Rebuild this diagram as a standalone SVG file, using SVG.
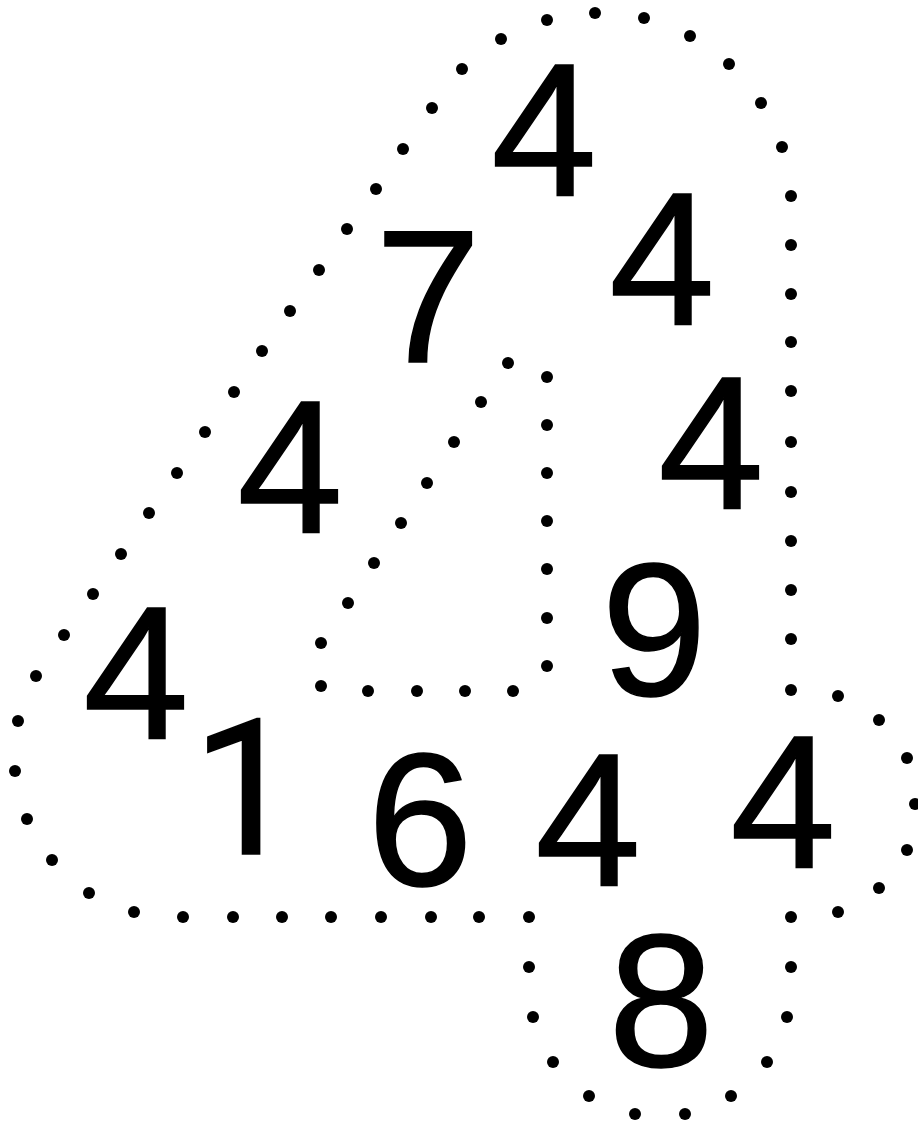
<svg xmlns="http://www.w3.org/2000/svg" width="918" height="1125" viewBox="0 0 918 1125">
<style>
.d{fill:#000}
.n{font-family:"Liberation Sans",Arial,sans-serif;font-size:190px;fill:#000;stroke:#000;stroke-width:1.5px;text-anchor:middle}
.one{font-family:Roboto,"Noto Sans",sans-serif;text-anchor:start}
</style>
<rect width="918" height="1125" fill="#fff"/>
<g id="region-large" class="d">
<circle cx="462" cy="69" r="6"/><circle cx="501" cy="39" r="6"/><circle cx="547" cy="20" r="6"/><circle cx="595" cy="13" r="6"/><circle cx="644" cy="18" r="6"/><circle cx="690" cy="36" r="6"/><circle cx="729" cy="64" r="6"/><circle cx="761" cy="103" r="6"/><circle cx="782" cy="147" r="6"/>
<circle cx="791" cy="196" r="6"/><circle cx="791" cy="245" r="6"/><circle cx="791" cy="294" r="6"/><circle cx="791" cy="342" r="6"/><circle cx="791" cy="391" r="6"/><circle cx="791" cy="442" r="6"/><circle cx="791" cy="492" r="6"/><circle cx="791" cy="541" r="6"/><circle cx="791" cy="590" r="6"/><circle cx="791" cy="639" r="6"/><circle cx="791" cy="690" r="6"/>
<circle cx="432" cy="108" r="6"/><circle cx="403" cy="149" r="6"/><circle cx="376" cy="189" r="6"/><circle cx="347" cy="229" r="6"/><circle cx="319" cy="270" r="6"/><circle cx="290" cy="311" r="6"/><circle cx="262" cy="351" r="6"/><circle cx="234" cy="392" r="6"/><circle cx="205" cy="432" r="6"/><circle cx="177" cy="473" r="6"/><circle cx="149" cy="513" r="6"/><circle cx="121" cy="554" r="6"/><circle cx="93" cy="594" r="6"/><circle cx="64" cy="635" r="6"/><circle cx="36" cy="676" r="6"/>
<circle cx="18" cy="721" r="6"/><circle cx="15" cy="771" r="6"/><circle cx="27" cy="819" r="6"/><circle cx="52" cy="860" r="6"/><circle cx="89" cy="893" r="6"/><circle cx="134" cy="912" r="6"/>
<circle cx="183" cy="917" r="6"/><circle cx="233" cy="917" r="6"/><circle cx="282" cy="917" r="6"/><circle cx="331" cy="917" r="6"/><circle cx="381" cy="917" r="6"/><circle cx="431" cy="917" r="6"/><circle cx="479" cy="917" r="6"/><circle cx="529" cy="917" r="6"/>
</g>
<g id="region-inner" class="d">
<circle cx="508" cy="363" r="6"/><circle cx="547" cy="377" r="6"/><circle cx="547" cy="425" r="6"/><circle cx="547" cy="473" r="6"/><circle cx="547" cy="521" r="6"/><circle cx="547" cy="569" r="6"/><circle cx="547" cy="618" r="6"/><circle cx="547" cy="666" r="6"/>
<circle cx="513" cy="691" r="6"/><circle cx="465" cy="691" r="6"/><circle cx="417" cy="691" r="6"/><circle cx="368" cy="691" r="6"/><circle cx="321" cy="686" r="6"/><circle cx="321" cy="643" r="6"/>
<circle cx="348" cy="603" r="6"/><circle cx="374" cy="563" r="6"/><circle cx="401" cy="523" r="6"/><circle cx="427" cy="483" r="6"/><circle cx="454" cy="442" r="6"/><circle cx="481" cy="402" r="6"/>
</g>
<g id="region-right" class="d">
<circle cx="838" cy="696" r="6"/><circle cx="879" cy="720" r="6"/><circle cx="907" cy="758" r="6"/><circle cx="915" cy="804" r="6"/><circle cx="907" cy="850" r="6"/><circle cx="879" cy="888" r="6"/><circle cx="838" cy="912" r="6"/><circle cx="791" cy="917" r="6"/>
</g>
<g id="region-bottom" class="d">
<circle cx="529" cy="967" r="6"/><circle cx="533" cy="1017" r="6"/><circle cx="553" cy="1062" r="6"/><circle cx="589" cy="1096" r="6"/><circle cx="635" cy="1114" r="6"/><circle cx="685" cy="1114" r="6"/><circle cx="731" cy="1096" r="6"/><circle cx="767" cy="1062" r="6"/><circle cx="787" cy="1017" r="6"/><circle cx="791" cy="967" r="6"/>
</g>
<g id="digits">
<text class="n" x="544" y="196">4</text>
<text class="n" x="428" y="362">7</text>
<text class="n" x="662" y="325">4</text>
<text class="n" x="290" y="533">4</text>
<text class="n" x="711" y="509">4</text>
<text class="n" x="654" y="695">9</text>
<text class="n" x="136" y="739">4</text>
<text class="n one" x="192" y="854">1</text>
<text class="n" x="420" y="885">6</text>
<text class="n" x="588" y="886">4</text>
<text class="n" x="783" y="868">4</text>
<text class="n" x="661" y="1066">8</text>
</g>
</svg>
